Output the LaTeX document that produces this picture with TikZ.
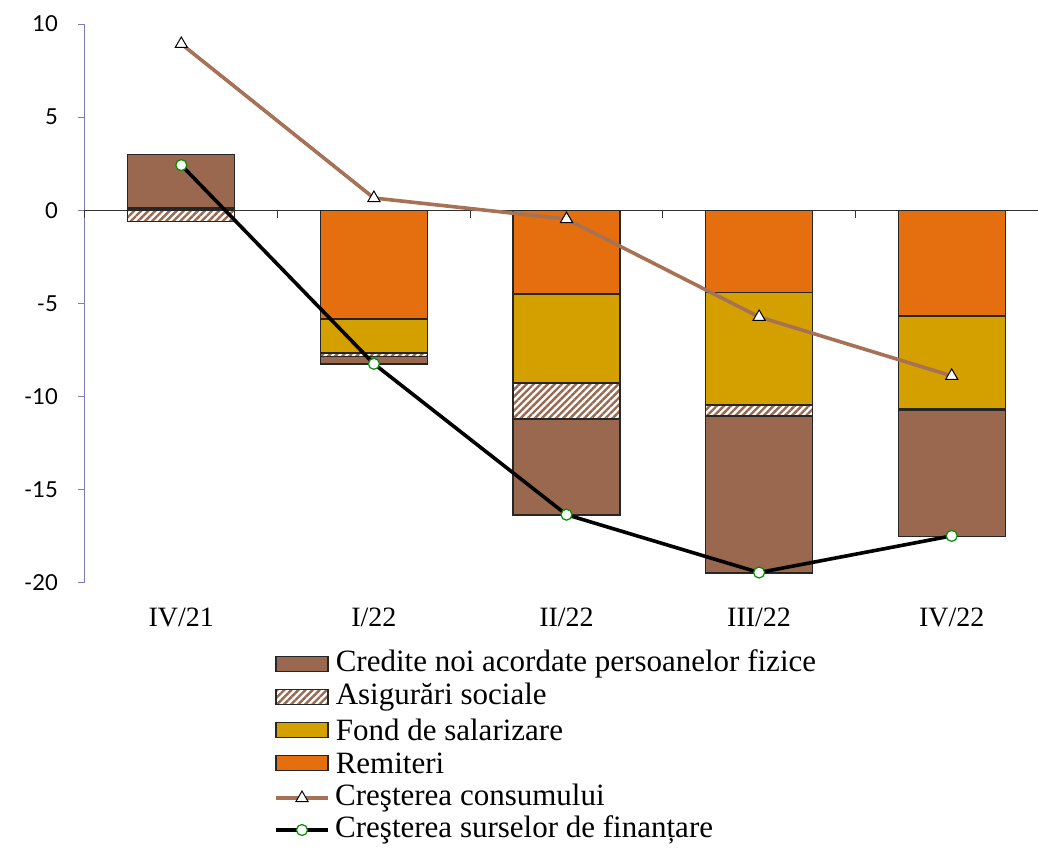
\documentclass[tikz,border=0pt]{standalone}
\usepackage{fontspec}
\setmainfont{Liberation Serif}
\newfontfamily\ticksfont{Lato}
\usetikzlibrary{positioning,patterns.meta,shapes.geometric}
\definecolor{credbrown}{RGB}{154,104,78}
\definecolor{fondyellow}{RGB}{212,160,0}
\definecolor{remorange}{RGB}{229,110,14}
\definecolor{consbrown}{RGB}{166,113,84}
\definecolor{srcgreen}{RGB}{0,140,0}
\definecolor{axisblue}{RGB}{125,125,190}
\tikzset{
	seg/.style={draw=black!85, line width=1.2pt},
	credseg/.style={seg, fill=credbrown},
	asigseg/.style={seg, pattern={Lines[angle=45,distance=5pt,line width=2.4pt]}, pattern color=credbrown},
	fondseg/.style={seg, fill=fondyellow},
	remseg/.style={seg, fill=remorange},
	consline/.style={consbrown, line width=3.6pt},
	srcline/.style={black, line width=3.6pt},
	trimark/.style={regular polygon, regular polygon sides=3, draw=black, fill=white, line width=1pt, minimum size=14pt, inner sep=0pt},
	circmark/.style={circle, draw=srcgreen, fill=white, line width=1.2pt, minimum size=11pt, inner sep=0pt},
	swatch/.style={minimum width=52pt, minimum height=15pt, inner sep=0pt, line width=1.2pt, draw=black!85},
	legtext/.style={font=\fontsize{31}{33}\selectfont, inner sep=0pt, anchor=west},
	catlabel/.style={font=\fontsize{28}{30}\selectfont},
	ticklabel/.style={font=\ticksfont\fontsize{22}{24}\selectfont, anchor=east, inner sep=0pt}
}
% one piece of a column: style, centre, bottom, top
\def\colseg#1#2#3#4{\draw[#1] (#2-53.5,#3) rectangle (#2+53.5,#4);}

\begin{document}
\begin{tikzpicture}[x=1pt, y=1pt]
	%%%%% START %%%%%
	\useasboundingbox (-85,-636.7) rectangle (953,210.3);
	
	\begin{scope}[yscale=18.63]
		% axes
		\draw[axisblue, line width=1pt] (0,10) -- (0,-20);
		\foreach \v in {10,5,0,-5,-10,-15,-20}
			\draw[axisblue, line width=1pt] (-7pt,\v) -- (0,\v);
		\foreach \v in {10,5,0,-5,-10,-15,-20}
			\node[ticklabel] at (-27pt,\v) {\v};
		\draw[black!80, line width=1pt] (0,0) -- (953,0);
		\foreach \k in {0,1,2,3,4}
			\draw[black!80, line width=1pt] (192.6*\k,0) -- (192.6*\k,-0.43);
		
		% IV/21
		\colseg{credseg}{96.3}{0.15}{2.98}
		\colseg{seg, fill=black!85}{96.3}{0}{0.15}
		\colseg{asigseg}{96.3}{0}{-0.58}
		
		% I/22
		\colseg{remseg}{288.9}{0}{-5.83}
		\colseg{fondseg}{288.9}{-5.83}{-7.66}
		\colseg{asigseg}{288.9}{-7.66}{-7.85}
		\colseg{credseg}{288.9}{-7.85}{-8.25}
		
		% II/22
		\colseg{remseg}{481.5}{0}{-4.49}
		\colseg{fondseg}{481.5}{-4.49}{-9.27}
		\colseg{asigseg}{481.5}{-9.27}{-11.2}
		\colseg{credseg}{481.5}{-11.2}{-16.36}
		
		% III/22
		\colseg{remseg}{674.1}{0}{-4.4}
		\colseg{fondseg}{674.1}{-4.4}{-10.45}
		\colseg{asigseg}{674.1}{-10.45}{-11.04}
		\colseg{credseg}{674.1}{-11.04}{-19.47}
		
		% IV/22
		\colseg{remseg}{866.7}{0}{-5.67}
		\colseg{fondseg}{866.7}{-5.67}{-10.67}
		\colseg{asigseg}{866.7}{-10.67}{-10.75}
		\colseg{credseg}{866.7}{-10.75}{-17.5}
		
		% consumption growth
		\coordinate (cons1) at (96.3,8.94);
		\coordinate (cons2) at (288.9,0.66);
		\coordinate (cons3) at (481.5,-0.47);
		\coordinate (cons4) at (674.1,-5.73);
		\coordinate (cons5) at (866.7,-8.9);
		\draw[consline] (cons1) -- (cons2) -- (cons3) -- (cons4) -- (cons5);
		
		% financing sources growth
		\coordinate (src1) at (96.3,2.43);
		\coordinate (src2) at (288.9,-8.25);
		\coordinate (src3) at (481.5,-16.36);
		\coordinate (src4) at (674.1,-19.47);
		\coordinate (src5) at (866.7,-17.5);
		\draw[srcline] (src1) -- (src2) -- (src3) -- (src4) -- (src5);
		
		\foreach \i in {1,...,5} {
			\node[trimark] (consm\i) at (cons\i) {};
			\node[circmark] (srcm\i) at (src\i) {};
		}
	\end{scope}
	
	% categories
	\node[catlabel] (catA) at (96.3,-406.7) {IV/21};
	\node[catlabel] (catB) at (288.9,-406.7) {I/22};
	\node[catlabel] (catC) at (481.5,-406.7) {II/22};
	\node[catlabel] (catD) at (674.1,-406.7) {III/22};
	\node[catlabel] (catE) at (866.7,-406.7) {IV/22};
	
	% legend
	\node[swatch, fill=credbrown] (swcred) at (217,-453.7) {};
	\node[legtext, right=7pt of swcred] (txcred) {Credite noi acordate persoanelor fizice};
	\node[swatch, pattern={Lines[angle=45,distance=5pt,line width=2.4pt]}, pattern color=credbrown] (swasig) at (217,-486.7) {};
	\node[legtext, right=7pt of swasig] (txasig) {Asigurări sociale};
	\node[swatch, fill=fondyellow] (swfond) at (217,-519.7) {};
	\node[legtext, right=7pt of swfond] (txfond) {Fond de salarizare};
	\node[swatch, fill=remorange] (swrem) at (217,-552.7) {};
	\node[legtext, right=7pt of swrem] (txrem) {Remiteri};
	
	\coordinate (lcA) at (191,-587.7);
	\coordinate (lcB) at (243,-587.7);
	\draw[consline] (lcA) -- (lcB);
	\node[trimark] (lcm) at (217,-587.7) {};
	\node[legtext] (txcons) at (250,-587.7) {Creşterea consumului};
	
	\coordinate (lsA) at (191,-619.7);
	\coordinate (lsB) at (243,-619.7);
	\draw[srcline] (lsA) -- (lsB);
	\node[circmark] (lsm) at (217,-619.7) {};
	\node[legtext] (txsrc) at (250,-619.7) {Creşterea surselor de finanțare};
	
	%%%%% END %%%%%
\end{tikzpicture}
\end{document}
